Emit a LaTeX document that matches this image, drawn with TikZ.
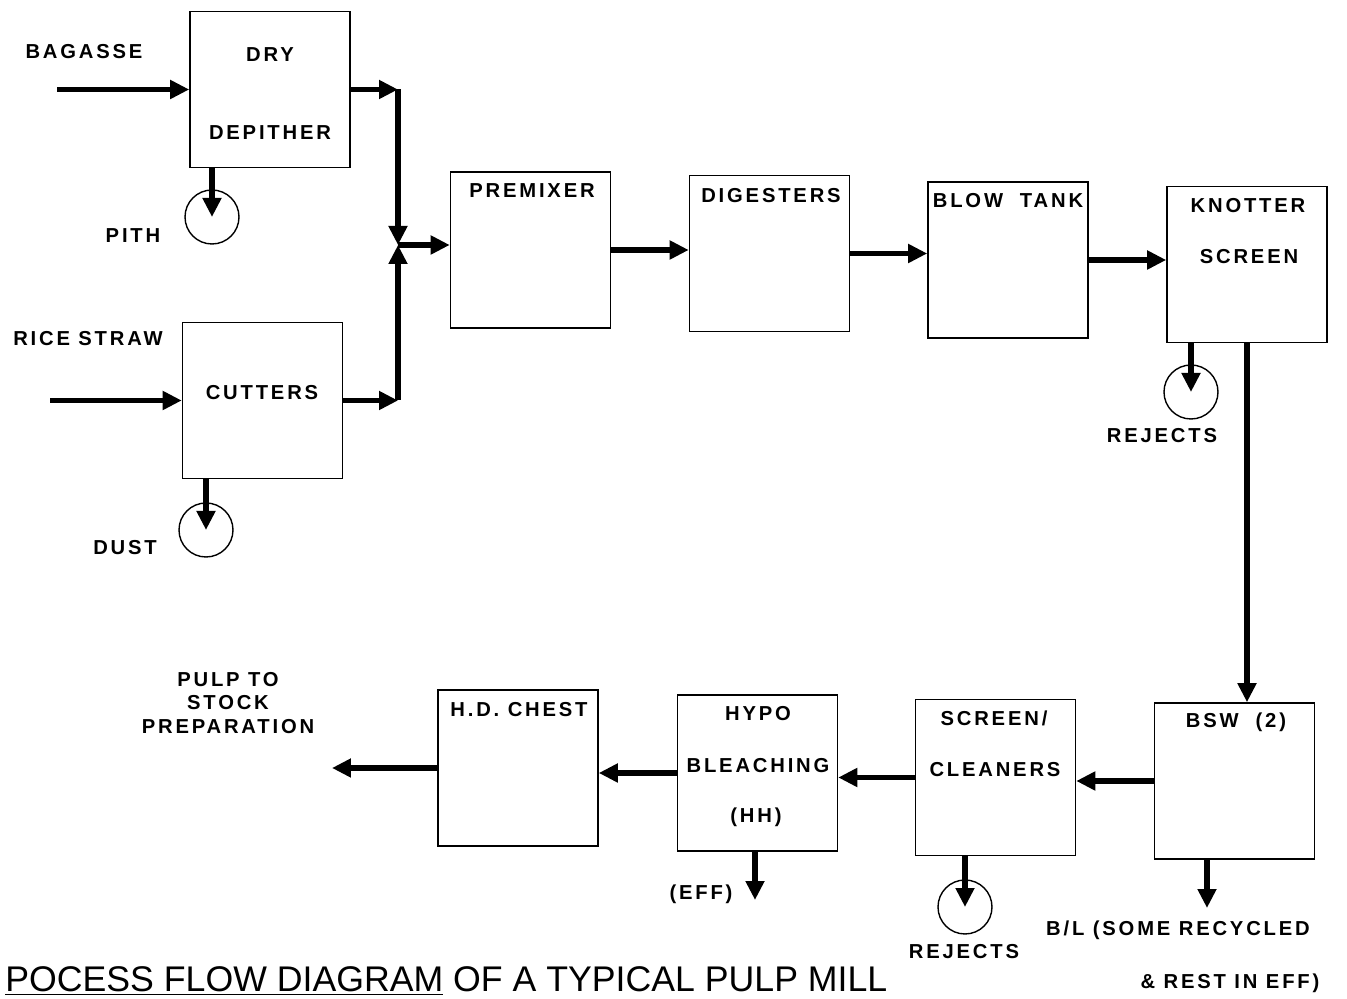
\documentclass[tikz,border=0pt]{standalone}
\usepackage{fontspec}
\setmainfont{Liberation Sans}
\newfontfamily\lblfont[LetterSpace=14]{Liberation Sans}
\usetikzlibrary{positioning,arrows.meta}

\begin{document}
\begin{tikzpicture}[
    x=0.02cm, y=-0.02cm,
    box/.style={draw, line width=0.9pt, minimum width=3.2cm, minimum height=3.12cm, inner sep=0pt},
    lbl/.style={font=\lblfont\bfseries\fontsize{11.5}{13}\selectfont, inner sep=0pt, align=center},
    bin/.style={draw, circle, line width=0.8pt, minimum size=1.08cm, inner sep=0pt},
    flow/.style={line width=3.4pt, -{Triangle[length=0.38cm, width=0.36cm]}},
    ttl/.style={font=\fontsize{20.3}{22}\selectfont, inner sep=0pt, anchor=base west}
]
    \useasboundingbox (0,0) rectangle (1347,999);

    % process boxes
    \node[box] (dep) at (270,89.5) {};
    \node[box] (cut) at (262.5,400.5) {};
    \node[box] (pre) at (530.5,250) {};
    \node[box] (dig) at (769.5,253.5) {};
    \node[box] (blw) at (1008,260) {};
    \node[box] (kno) at (1247,264.5) {};
    \node[box] (bsw) at (1234.5,781) {};
    \node[box] (scr) at (995.5,777.5) {};
    \node[box] (hyp) at (757.5,773) {};
    \node[box] (hdc) at (518,768) {};

    % box texts
    \node[lbl] at (270,55) {DRY};
    \node[lbl] at (270,133) {DEPITHER};
    \node[lbl] at (262,393) {CUTTERS};
    \node[lbl] at (532,191) {PREMIXER};
    \node[lbl] at (771,196) {DIGESTERS};
    \node[lbl] at (1008,201) {BLOW\ \ TANK};
    \node[lbl] at (1248,206) {KNOTTER};
    \node[lbl] at (1249,257) {SCREEN};
    \node[lbl] at (1236,722) {BSW\ \ (2)};
    \node[lbl] at (994,718) {SCREEN/};
    \node[lbl] at (995,770) {CLEANERS};
    \node[lbl] at (758,714) {HYPO};
    \node[lbl] at (758,766) {BLEACHING};
    \node[lbl] at (756,817) {(HH)};
    \node[lbl] at (519,710) {H.D.\ CHEST};

    % bins
    \node[bin] (pith) at (212,217) {};
    \node[bin] (dust) at (206,530) {};
    \node[bin] (krej) at (1191,392) {};
    \node[bin] (srej) at (965,907) {};

    % outside labels
    \node[lbl] at (84,52) {BAGASSE};
    \node[lbl] at (133,236) {PITH};
    \node[lbl] at (88,339) {RICE\ STRAW};
    \node[lbl] at (125,548) {DUST};
    \node[lbl] at (1162,436) {REJECTS};
    \node[lbl] at (964,952) {REJECTS};
    \node[lbl] at (701,894) {(EFF)};
    \node[lbl] at (1178,930) {B/L\ (SOME\ RECYCLED};
    \node[lbl] at (1230,983) {\&\ REST\ IN\ EFF)};
    \node[lbl, font=\lblfont\bfseries\fontsize{11.5}{13.5}\selectfont] at (228,703) {PULP\ TO\\STOCK\\PREPARATION};

    % free ends
    \coordinate (bagin) at (57,89.5);
    \coordinate (ricein) at (50,400.5);
    \coordinate (j) at (398,245);
    \coordinate (out) at (332,768);
    \coordinate (eff) at (755,900);
    \coordinate (bl) at (1207,908);

    % flows
    \draw[flow] (bagin) -- (dep.west);
    \draw[flow] (ricein) -- (cut.west);
    \draw[flow] (dep.east) -- (dep.east -| j);
    \draw[flow] (dep.east -| j) -- (j);
    \draw[flow] (cut.east) -- (cut.east -| j);
    \draw[flow] (cut.east -| j) -- (j);
    \draw[flow] (j) -- (j -| pre.west);
    \draw[flow] (dep.south -| pith) -- (pith.center);
    \draw[flow] (cut.south -| dust) -- (dust.center);
    \draw[flow] (pre.east) -- (pre.east -| dig.west);
    \draw[flow] (dig.east) -- (dig.east -| blw.west);
    \draw[flow] (blw.east) -- (blw.east -| kno.west);
    \draw[flow] (kno.south -| krej) -- (krej.center);
    \draw[flow] (kno.south) -- (kno.south |- bsw.north);
    \draw[flow] (bsw.west) -- (bsw.west -| scr.east);
    \draw[flow] (scr.west) -- (scr.west -| hyp.east);
    \draw[flow] (hyp.west) -- (hyp.west -| hdc.east);
    \draw[flow] (hdc.west) -- (out);
    \draw[flow] (hyp.south -| eff) -- (eff);
    \draw[flow] (scr.south -| srej) -- (srej.center);
    \draw[flow] (bsw.south -| bl) -- (bl);

    % title
    \node[ttl] (title) at (5,992) {\underline{POCESS FLOW DIAGRAM} OF A TYPICAL PULP MILL};
\end{tikzpicture}
\end{document}
